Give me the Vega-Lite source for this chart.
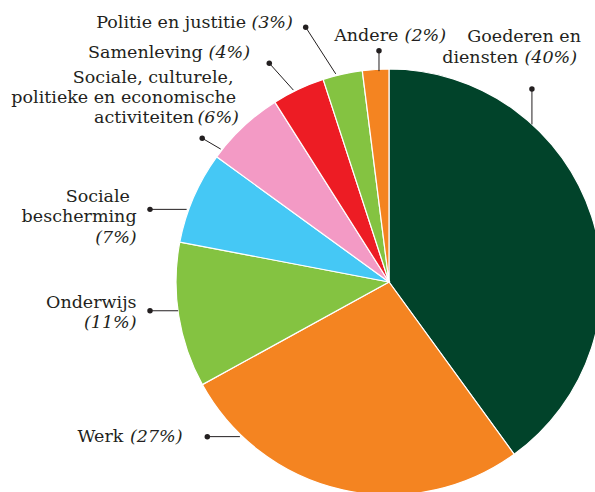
{
  "$schema": "https://vega.github.io/schema/vega-lite/v6.json",
  "width": 412,
  "height": 420,
  "autosize": "none",
  "padding": {"left": 183, "top": 72, "right": 0, "bottom": 0},
  "background": "white",
  "datasets": {
    "slices": [
      {"cat": "Goederen en diensten", "share": 40, "order": 1},
      {"cat": "Werk", "share": 27, "order": 2},
      {"cat": "Onderwijs", "share": 11, "order": 3},
      {"cat": "Sociale bescherming", "share": 7, "order": 4},
      {"cat": "Sociale, culturele, politieke en economische activiteiten", "share": 6, "order": 5},
      {"cat": "Samenleving", "share": 4, "order": 6},
      {"cat": "Politie en justitie", "share": 3, "order": 7},
      {"cat": "Andere", "share": 2, "order": 8}
    ],
    "leaders": [
      {"cat": "Goederen en diensten", "x": 0.671, "y": 0.906, "x2": 0.671, "y2": 0.74},
      {"cat": "Andere", "x": -0.047, "y": 1.086, "x2": -0.047, "y2": 0.99},
      {"cat": "Politie en justitie", "x": -0.391, "y": 1.196, "x2": -0.25, "y2": 0.977},
      {"cat": "Samenleving", "x": -0.562, "y": 1.027, "x2": -0.449, "y2": 0.901},
      {"cat": "Sociale, culturele, politieke en economische activiteiten", "x": -0.877, "y": 0.675, "x2": -0.79, "y2": 0.624},
      {"cat": "Sociale bescherming", "x": -1.122, "y": 0.341, "x2": -0.95, "y2": 0.341},
      {"cat": "Onderwijs", "x": -1.122, "y": -0.135, "x2": -0.99, "y2": -0.135},
      {"cat": "Werk", "x": -0.853, "y": -0.726, "x2": -0.7, "y2": -0.726}
    ],
    "labels": [
      {"text": "Politie en justitie", "kind": "name", "anchor": "end", "x": -0.671, "y": 1.191},
      {"text": "(3%)", "kind": "share", "anchor": "start", "x": -0.646, "y": 1.191},
      {"text": "Samenleving", "kind": "name", "anchor": "end", "x": -0.875, "y": 1.053},
      {"text": "(4%)", "kind": "share", "anchor": "start", "x": -0.847, "y": 1.053},
      {"text": "Sociale, culturele,", "kind": "name", "anchor": "end", "x": -0.73, "y": 0.936},
      {"text": "politieke en economische", "kind": "name", "anchor": "end", "x": -0.718, "y": 0.839},
      {"text": "activiteiten", "kind": "name", "anchor": "end", "x": -0.915, "y": 0.748},
      {"text": "(6%)", "kind": "share", "anchor": "start", "x": -0.899, "y": 0.748},
      {"text": "Sociale", "kind": "name", "anchor": "end", "x": -1.216, "y": 0.377},
      {"text": "bescherming", "kind": "name", "anchor": "end", "x": -1.185, "y": 0.28},
      {"text": "(7%)", "kind": "share", "anchor": "end", "x": -1.185, "y": 0.182},
      {"text": "Onderwijs", "kind": "name", "anchor": "end", "x": -1.185, "y": -0.123},
      {"text": "(11%)", "kind": "share", "anchor": "end", "x": -1.185, "y": -0.217},
      {"text": "Werk", "kind": "name", "anchor": "end", "x": -1.247, "y": -0.75},
      {"text": "(27%)", "kind": "share", "anchor": "start", "x": -1.216, "y": -0.75},
      {"text": "Andere", "kind": "name", "anchor": "end", "x": 0.044, "y": 1.133},
      {"text": "(2%)", "kind": "share", "anchor": "start", "x": 0.073, "y": 1.133},
      {"text": "Goederen en", "kind": "name", "anchor": "end", "x": 0.901, "y": 1.125},
      {"text": "diensten", "kind": "name", "anchor": "end", "x": 0.607, "y": 1.03},
      {"text": "(40%)", "kind": "share", "anchor": "start", "x": 0.636, "y": 1.03}
    ]
  },
  "layer": [
    {
      "data": {"name": "slices"},
      "mark": {"type": "arc", "outerRadius": 213, "stroke": "white", "strokeWidth": 1.2},
      "encoding": {
        "theta": {"field": "share", "type": "quantitative", "stack": true},
        "order": {"field": "order", "type": "quantitative"},
        "color": {
          "field": "cat",
          "type": "nominal",
          "legend": null,
          "scale": {
            "domain": [
              "Goederen en diensten",
              "Werk",
              "Onderwijs",
              "Sociale bescherming",
              "Sociale, culturele, politieke en economische activiteiten",
              "Samenleving",
              "Politie en justitie",
              "Andere"
            ],
            "range": ["#01432a", "#f48421", "#84c341", "#45c8f5", "#f39ac5", "#ed1c24", "#84c341", "#f48421"]
          }
        }
      }
    },
    {
      "data": {"name": "leaders"},
      "mark": {"type": "rule", "color": "#231f20", "strokeWidth": 1},
      "encoding": {
        "x": {"field": "x", "type": "quantitative", "axis": null, "scale": {"domain": [-0.9671, 0.9671], "nice": false, "zero": false}},
        "y": {"field": "y", "type": "quantitative", "axis": null, "scale": {"domain": [-0.9859, 0.9859], "nice": false, "zero": false}},
        "x2": {"field": "x2"},
        "y2": {"field": "y2"}
      }
    },
    {
      "data": {"name": "leaders"},
      "mark": {"type": "circle", "color": "#231f20", "size": 30, "opacity": 1},
      "encoding": {
        "x": {"field": "x", "type": "quantitative"},
        "y": {"field": "y", "type": "quantitative"}
      }
    },
    {
      "data": {"name": "labels"},
      "transform": [{"filter": "datum.kind === 'name'"}],
      "mark": {"type": "text", "align": "right", "baseline": "alphabetic", "font": "DejaVu Serif", "fontSize": 17.5, "color": "#231f20"},
      "encoding": {
        "x": {"field": "x", "type": "quantitative"},
        "y": {"field": "y", "type": "quantitative"},
        "text": {"field": "text"}
      }
    },
    {
      "data": {"name": "labels"},
      "transform": [{"filter": "datum.kind === 'share' && datum.anchor === 'start'"}],
      "mark": {"type": "text", "align": "left", "baseline": "alphabetic", "font": "DejaVu Serif", "fontSize": 17.5, "fontStyle": "italic", "color": "#231f20"},
      "encoding": {
        "x": {"field": "x", "type": "quantitative"},
        "y": {"field": "y", "type": "quantitative"},
        "text": {"field": "text"}
      }
    },
    {
      "data": {"name": "labels"},
      "transform": [{"filter": "datum.kind === 'share' && datum.anchor === 'end'"}],
      "mark": {"type": "text", "align": "right", "baseline": "alphabetic", "font": "DejaVu Serif", "fontSize": 17.5, "fontStyle": "italic", "color": "#231f20"},
      "encoding": {
        "x": {"field": "x", "type": "quantitative"},
        "y": {"field": "y", "type": "quantitative"},
        "text": {"field": "text"}
      }
    }
  ],
  "config": {
    "view": {"stroke": null}
  }
}
